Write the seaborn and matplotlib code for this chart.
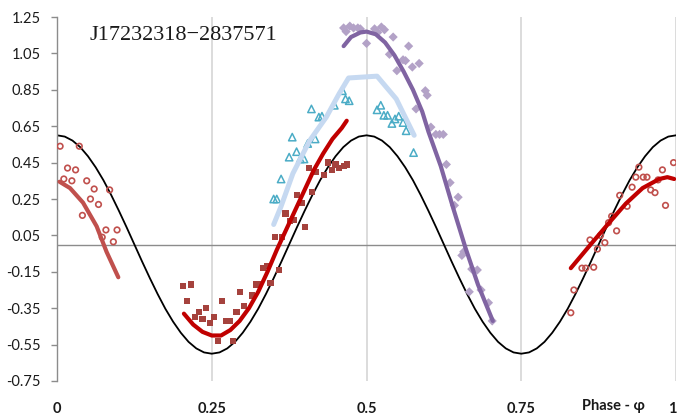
import numpy as np
import seaborn as sns
import matplotlib.pyplot as plt

sns.set_style("white")
plt.rcParams['font.family'] = ['Lato', 'DejaVu Sans']
plt.rcParams['axes.unicode_minus'] = False

# model curve (black), read every 0.0125 in phase over one half period
model_half = [0.600, 0.593, 0.571, 0.535, 0.485, 0.424, 0.353, 0.272, 0.185, 0.094,
              0.000, -0.094, -0.185, -0.272, -0.353, -0.424, -0.485, -0.535, -0.571, -0.593,
              -0.600, -0.593, -0.571, -0.535, -0.485, -0.424, -0.353, -0.272, -0.185, -0.094,
              0.000, 0.094, 0.185, 0.272, 0.353, 0.424, 0.485, 0.535, 0.571, 0.593]
model_val = model_half + model_half + [0.600]
model_phase = np.linspace(0, 1, len(model_val))

# red open circles
circ_phase = [0.005, 0.036, 0.017, 0.030, 0.011, 0.024, 0.048, 0.060, 0.085, 0.054,
              0.067, 0.041, 0.079, 0.097, 0.073, 0.091,
              0.830, 0.835, 0.848, 0.854, 0.867, 0.861, 0.873, 0.878, 0.885, 0.891,
              0.904, 0.896, 0.909, 0.921, 0.929, 0.935, 0.940, 0.947, 0.953, 0.959,
              0.966, 0.971, 0.978, 0.983, 0.996]
circ_val = [0.54, 0.54, 0.42, 0.41, 0.36, 0.35, 0.35, 0.305, 0.30, 0.25,
            0.22, 0.16, 0.08, 0.08, 0.04, 0.015,
            -0.375, -0.25, -0.13, -0.13, -0.125, 0.025, -0.025, 0.05, 0.01, 0.12,
            0.075, 0.155, 0.27, 0.21, 0.315, 0.37, 0.425, 0.37, 0.37, 0.30,
            0.285, 0.355, 0.41, 0.215, 0.45]

# dark red squares
sq_phase = [0.204, 0.216, 0.210, 0.223, 0.229, 0.235, 0.241, 0.247, 0.253, 0.260,
            0.266, 0.273, 0.279, 0.284, 0.290, 0.296, 0.302, 0.315, 0.321, 0.326,
            0.333, 0.340, 0.345, 0.352, 0.358, 0.364, 0.369, 0.376, 0.383, 0.388,
            0.395, 0.400, 0.407, 0.412, 0.419, 0.431, 0.438, 0.444, 0.450, 0.456,
            0.463, 0.469]
sq_val = [-0.23, -0.22, -0.31, -0.40, -0.37, -0.41, -0.35, -0.43, -0.40, -0.53,
          -0.31, -0.42, -0.42, -0.53, -0.37, -0.26, -0.34, -0.28, -0.22, -0.22,
          -0.13, -0.12, -0.21, 0.04, -0.14, 0.04, 0.17, 0.13, 0.135, 0.27,
          0.23, 0.095, 0.42, 0.29, 0.40, 0.38, 0.45, 0.41, 0.44, 0.42,
          0.43, 0.44]

# cyan open triangles
tri_phase = [0.350, 0.355, 0.362, 0.375, 0.387, 0.380, 0.393, 0.399, 0.405, 0.417,
             0.411, 0.423, 0.428, 0.448, 0.461, 0.466, 0.472, 0.517, 0.523, 0.528,
             0.534, 0.541, 0.546, 0.552, 0.559, 0.564, 0.576]
tri_val = [0.25, 0.25, 0.36, 0.48, 0.51, 0.59, 0.47, 0.47, 0.555, 0.58,
           0.745, 0.70, 0.705, 0.765, 0.845, 0.80, 0.79, 0.74, 0.765, 0.71,
           0.71, 0.665, 0.69, 0.705, 0.67, 0.625, 0.505]

# lavender diamonds
dia_phase = [0.463, 0.467, 0.473, 0.479, 0.486, 0.490, 0.500, 0.513, 0.518, 0.524,
             0.529, 0.537, 0.543, 0.549, 0.559, 0.563, 0.568, 0.574, 0.580, 0.585,
             0.595, 0.598, 0.604, 0.612, 0.618, 0.624, 0.629, 0.635, 0.642, 0.648,
             0.654, 0.657, 0.666, 0.670, 0.679, 0.685, 0.697, 0.703]
dia_val = [1.19, 1.17, 1.20, 1.19, 1.19, 1.185, 1.105, 1.185, 1.165, 1.195,
           1.18, 1.045, 1.14, 0.955, 1.015, 1.01, 1.09, 0.975, 0.745, 0.995,
           0.845, 0.82, 0.645, 0.605, 0.605, 0.605, 0.44, 0.34, 0.215, 0.26,
           -0.06, -0.04, -0.26, -0.135, -0.14, -0.25, -0.32, -0.42]

# fitted curves
fit1_phase = [0.004, 0.021, 0.042, 0.064, 0.080, 0.099]
fit1_val = [0.345, 0.31, 0.23, 0.10, -0.04, -0.18]

fit2_phase = [0.205, 0.220, 0.235, 0.250, 0.265, 0.280, 0.295, 0.310, 0.325, 0.340,
              0.355, 0.370, 0.385, 0.400, 0.415, 0.430, 0.445, 0.460, 0.468]
fit2_val = [-0.38, -0.44, -0.48, -0.50, -0.50, -0.47, -0.42, -0.35, -0.26, -0.15,
            -0.03, 0.08, 0.19, 0.30, 0.41, 0.50, 0.58, 0.64, 0.68]

fit3_phase = [0.350, 0.362, 0.381, 0.408, 0.435, 0.456, 0.471, 0.517, 0.548, 0.577]
fit3_val = [0.11, 0.21, 0.39, 0.57, 0.70, 0.83, 0.915, 0.925, 0.80, 0.60]

fit4_phase = [0.463, 0.475, 0.490, 0.500, 0.515, 0.530, 0.545, 0.560, 0.575, 0.590,
              0.600, 0.620, 0.640, 0.660, 0.680, 0.704]
fit4_val = [1.09, 1.14, 1.165, 1.17, 1.155, 1.11, 1.04, 0.95, 0.85, 0.73,
            0.62, 0.43, 0.20, -0.02, -0.22, -0.42]

fit5_phase = [0.830, 0.862, 0.892, 0.919, 0.946, 0.973, 0.986, 0.997]
fit5_val = [-0.13, 0.00, 0.12, 0.225, 0.31, 0.36, 0.37, 0.36]

y_ticks = [-0.75, -0.55, -0.35, -0.15, 0.05, 0.25, 0.45, 0.65, 0.85, 1.05, 1.25]
y_labels = ['-0.75', '-0.55', '-0.35', '-0.15', '0.05', '0.25', '0.45', '0.65', '0.85', '1.05', '1.25']
x_ticks = [0, 0.25, 0.5, 0.75, 1]
x_labels = ['0', '0.25', '0.5', '0.75', '1']

fig = plt.figure(figsize=(6.78, 4.19), dpi=100)
ax = fig.add_axes([0.0841, 0.0907, 0.913, 0.8687])

for xv in x_ticks[1:]:
    ax.axvline(xv, color='#D9D9D9', lw=1.3, zorder=0)
ax.axhline(0, color='#8C8C8C', lw=1.0, zorder=1)

sns.lineplot(x=model_phase, y=model_val, color='black', lw=1.3, sort=False, ax=ax, zorder=2)

sns.scatterplot(x=circ_phase, y=circ_val, marker='o', s=16, facecolor='none',
                edgecolor='#C0504D', linewidth=1.2, ax=ax, zorder=3)
sns.scatterplot(x=sq_phase, y=sq_val, marker='s', s=20, color='#A5423D',
                edgecolor='none', linewidth=0, ax=ax, zorder=3)
sns.scatterplot(x=tri_phase, y=tri_val, marker='^', s=28, facecolor='none',
                edgecolor='#4BACC6', linewidth=1.1, ax=ax, zorder=3)
sns.scatterplot(x=dia_phase, y=dia_val, marker='D', s=22, color='#B3A2C7',
                edgecolor='none', linewidth=0, ax=ax, zorder=3)

sns.lineplot(x=fit1_phase, y=fit1_val, color='#C0504D', lw=3, sort=False, ax=ax, zorder=4)
sns.lineplot(x=fit2_phase, y=fit2_val, color='#C00000', lw=3, sort=False, ax=ax, zorder=4)
sns.lineplot(x=fit3_phase, y=fit3_val, color='#C6D9F1', lw=3.6, sort=False, ax=ax, zorder=4)
sns.lineplot(x=fit4_phase, y=fit4_val, color='#8064A2', lw=3, sort=False, ax=ax, zorder=4)
sns.lineplot(x=fit5_phase, y=fit5_val, color='#C00000', lw=3, sort=False, ax=ax, zorder=4)

ax.set_xlim(0, 1)
ax.set_ylim(-0.75, 1.25)
ax.set_yticks(y_ticks)
ax.set_yticklabels(y_labels, fontsize=10.5, color='#1a1a1a')
ax.set_xticks(x_ticks)
ax.set_xticklabels(x_labels, fontsize=10.5, fontweight='bold', color='#1a1a1a')
ax.get_xticklabels()[-1].set_horizontalalignment('right')
ax.tick_params(axis='y', direction='out', length=4.5, width=1, color='#8C8C8C', pad=7, left=True)
ax.tick_params(axis='x', length=0, pad=15)

for side in ['top', 'right', 'bottom']:
    ax.spines[side].set_visible(False)
ax.spines['left'].set_color('#8C8C8C')
ax.spines['left'].set_linewidth(1.0)

ax.text(0.053, 1.15, 'J17232318\u22122837571', fontsize=16, va='center', ha='left',
        family=['Liberation Serif', 'DejaVu Serif'], color='#1a1a1a')
ax.text(0.848, -0.069, 'Phase - \u03c6', transform=ax.transAxes, fontsize=10.5,
        fontweight='bold', va='center', ha='left', color='#1a1a1a')

plt.savefig('out.png', dpi=100)
